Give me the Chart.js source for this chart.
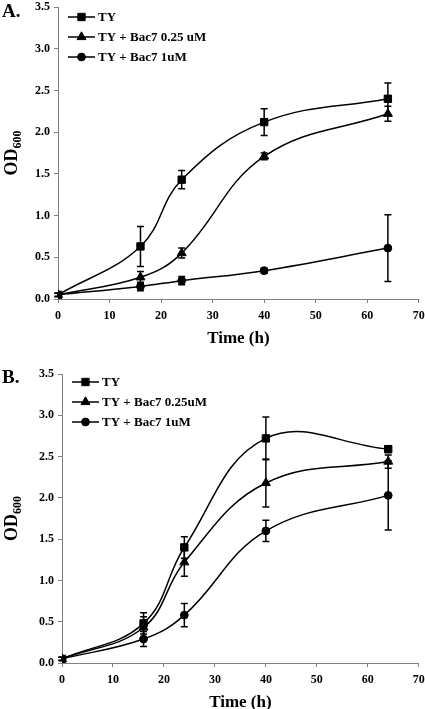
<!DOCTYPE html>
<html lang="en">
<head>
<meta charset="UTF-8">
<title>Growth curves Bac7</title>
<script src="https://cdn.jsdelivr.net/npm/chart.js"></script>
<style>
  body { margin: 0; background: #fff; }
  #wrap { position: relative; width: 425px; height: 709px; overflow: hidden; }
  canvas { position: absolute; left: 0; }
  #chartA { top: 0; }
  #chartB { top: 355px; }
</style>
</head>
<body>
<div id="wrap">
  <canvas id="chartA" width="425" height="355"></canvas>
  <canvas id="chartB" width="425" height="354"></canvas>
</div>
<script>
// sampling times (h)
const times = [0, 16, 24, 40, 64];
const xTicks = [0, 10, 20, 30, 40, 50, 60, 70];
const yTicks = [0, 0.5, 1, 1.5, 2, 2.5, 3, 3.5];

// panel A
const labelsA = ['TY', 'TY + Bac7 0.25 uM', 'TY + Bac7 1uM'];
const tyA = [0.05, 0.63, 1.43, 2.12, 2.40];
const tyAErr = [0.02, 0.24, 0.11, 0.16, 0.19];
const bac025A = [0.05, 0.26, 0.55, 1.71, 2.22];
const bac025AErr = [0.02, 0.07, 0.06, 0.04, 0.09];
const bac1A = [0.05, 0.15, 0.22, 0.34, 0.61];
const bac1AErr = [0.02, 0.05, 0.05, 0.03, 0.40];

// panel B
const labelsB = ['TY', 'TY + Bac7 0.25uM', 'TY + Bac7 1uM'];
const tyB = [0.05, 0.48, 1.40, 2.72, 2.59];
const tyBErr = [0.02, 0.13, 0.13, 0.26, 0.04];
const bac025B = [0.05, 0.43, 1.22, 2.18, 2.44];
const bac025BErr = [0.02, 0.13, 0.17, 0.29, 0.08];
const bac1B = [0.05, 0.29, 0.58, 1.60, 2.03];
const bac1BErr = [0.02, 0.09, 0.14, 0.13, 0.42];

const markerStyles = ['rect', 'triangle', 'circle'];
const markerRadius = [5.2, 5.2, 3.9];
const serif = '"Liberation Serif", "Times New Roman", serif';

function series(ys) {
    return ys.map((y, i) => ({ x: times[i], y: y }));
}

// error bars + titles + legend
const decorPlugin = {
    id: 'decor',
    afterDatasetsDraw(chart, args, opts) {
        const ctx = chart.ctx;
        const ys = chart.scales.y;
        ctx.save();
        ctx.strokeStyle = '#000';
        ctx.lineWidth = 1.5;
        chart.data.datasets.forEach((ds, di) => {
            const meta = chart.getDatasetMeta(di);
            meta.data.forEach((pt, i) => {
                const v = ds.data[i].y;
                const e = ds.errors[i];
                const yTop = ys.getPixelForValue(v + e);
                const yBot = ys.getPixelForValue(v - e);
                ctx.beginPath();
                ctx.moveTo(pt.x, yTop);
                ctx.lineTo(pt.x, yBot);
                ctx.moveTo(pt.x - 3.5, yTop);
                ctx.lineTo(pt.x + 3.5, yTop);
                ctx.moveTo(pt.x - 3.5, yBot);
                ctx.lineTo(pt.x + 3.5, yBot);
                ctx.stroke();
            });
        });
        ctx.restore();
    },
    afterDraw(chart, args, opts) {
        const ctx = chart.ctx;
        const area = chart.chartArea;
        ctx.save();
        ctx.fillStyle = '#000';

        // panel letter
        ctx.font = 'bold 19px ' + serif;
        ctx.textAlign = 'left';
        ctx.textBaseline = 'alphabetic';
        ctx.fillText(opts.panel, 2, opts.panelY);

        // x title
        ctx.font = 'bold 17px ' + serif;
        ctx.textAlign = 'center';
        ctx.fillText('Time (h)', (area.left + area.right) / 2, area.bottom + 44);

        // y title with subscript
        const cy = (area.top + area.bottom) / 2;
        ctx.translate(17, cy);
        ctx.rotate(-Math.PI / 2);
        ctx.font = 'bold 18px ' + serif;
        const w1 = ctx.measureText('OD').width;
        ctx.font = 'bold 12px ' + serif;
        const w2 = ctx.measureText('600').width;
        const x0 = -(w1 + w2) / 2;
        ctx.textAlign = 'left';
        ctx.font = 'bold 18px ' + serif;
        ctx.fillText('OD', x0, 0);
        ctx.font = 'bold 12px ' + serif;
        ctx.fillText('600', x0 + w1, 4);
        ctx.setTransform(1, 0, 0, 1, 0, 0);

        // legend
        ctx.font = 'bold 13px ' + serif;
        ctx.textBaseline = 'middle';
        ctx.strokeStyle = '#000';
        chart.data.datasets.forEach((ds, di) => {
            const y = opts.legendY + di * 20;
            ctx.lineWidth = 1.5;
            ctx.beginPath();
            ctx.moveTo(opts.legendX, y);
            ctx.lineTo(opts.legendX + 27, y);
            ctx.stroke();
            ctx.lineWidth = 1;
            Chart.helpers.drawPoint(ctx, {
                pointStyle: ds.pointStyle, radius: ds.pointRadius, rotation: 0, borderWidth: 1
            }, opts.legendX + 13.5, y);
            ctx.textAlign = 'left';
            ctx.fillText(ds.label, opts.legendX + 30, y + 1);
        });
        ctx.restore();
    }
};

function makeChart(id, labels, values, errors, layout) {
    const datasets = values.map((vals, i) => ({
        label: labels[i],
        data: series(vals),
        errors: errors[i],
        borderColor: '#000',
        backgroundColor: '#000',
        borderWidth: 1.5,
        pointStyle: markerStyles[i],
        pointRadius: markerRadius[i],
        pointBorderWidth: 1,
        tension: 0.4,
        fill: false
    }));
    return new Chart(document.getElementById(id), {
        type: 'line',
        data: { datasets: datasets },
        options: {
            responsive: false,
            animation: false,
            layout: { padding: { top: layout.top, right: 6, left: 0, bottom: 0 } },
            plugins: {
                legend: { display: false },
                tooltip: { enabled: false },
                decor: layout
            },
            scales: {
                x: {
                    type: 'linear',
                    min: 0, max: 70,
                    afterBuildTicks: s => { s.ticks = xTicks.map(v => ({ value: v })); },
                    afterFit: s => { s.height = layout.xHeight; s.paddingLeft = 0; s.paddingRight = 0; },
                    grid: { display: true, drawOnChartArea: false, drawTicks: true, tickLength: 4, color: '#808080' },
                    border: { display: true, color: '#808080', width: 1 },
                    ticks: {
                        color: '#000', padding: 6, maxRotation: 0,
                        font: { family: serif, size: 12, weight: 'bold' }
                    }
                },
                y: {
                    type: 'linear',
                    min: 0, max: 3.5,
                    afterBuildTicks: s => { s.ticks = yTicks.map(v => ({ value: v })); },
                    afterFit: s => { s.width = layout.yWidth; s.paddingTop = 0; s.paddingBottom = 0; },
                    grid: { display: true, drawOnChartArea: false, drawTicks: true, tickLength: 4, color: '#808080' },
                    border: { display: true, color: '#808080', width: 1 },
                    ticks: {
                        color: '#000', padding: 4,
                        font: { family: serif, size: 12, weight: 'bold' },
                        callback: v => v.toFixed(1)
                    }
                }
            }
        },
        plugins: [decorPlugin]
    });
}

makeChart('chartA', labelsA,
    [tyA, bac025A, bac1A], [tyAErr, bac025AErr, bac1AErr],
    { panel: 'A.', panelY: 17, legendX: 68, legendY: 17, top: 7, xHeight: 56, yWidth: 58 });

makeChart('chartB', labelsB,
    [tyB, bac025B, bac1B], [tyBErr, bac025BErr, bac1BErr],
    { panel: 'B.', panelY: 28, legendX: 72, legendY: 27, top: 19, xHeight: 46, yWidth: 62 });
</script>
</body>
</html>
